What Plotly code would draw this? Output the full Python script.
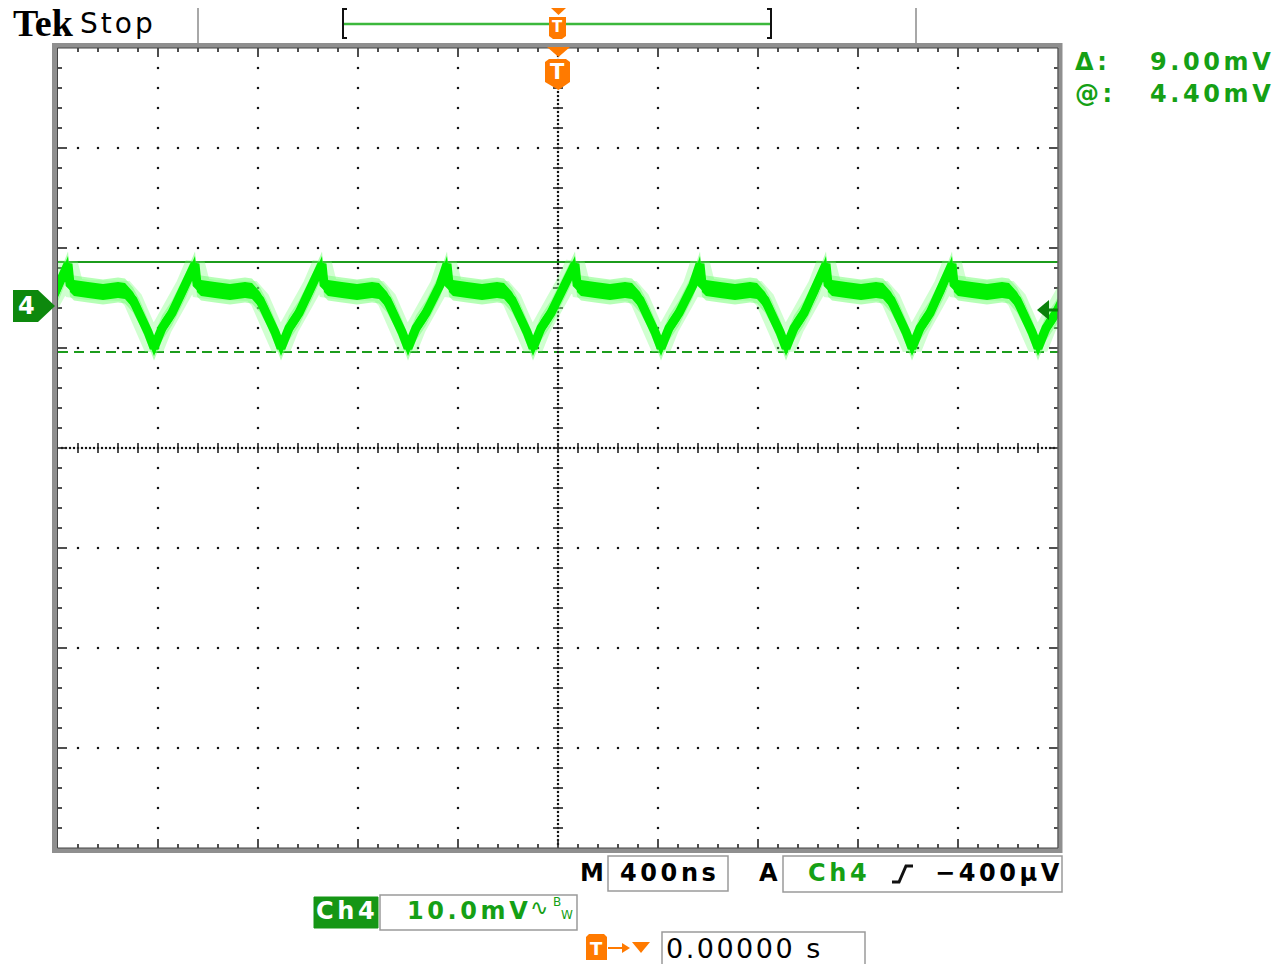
import plotly.graph_objects as go

# ---------------------------------------------------------------------------
# Acquisition settings
# ---------------------------------------------------------------------------
ns_per_div = 400          # M 400ns
mv_per_div = 10.0         # Ch4 10.0mV
n_hdiv, n_vdiv = 10, 8
ch4_position_div = 1.42   # ground marker above screen centre

# Output ripple: peak instants of each switching cycle (ns, trigger = 0)
peak_times_ns = [-2465, -1960, -1452, -944, -444, 68, 568, 1072, 1576]
# Shape of one cycle, measured from its peak
cycle_dt_ns = [0, 8, 24, 80, 140, 200, 228, 260, 288, 320, 344, 376, 416, 472]
cycle_mv = [4.2, 2.2, 1.8, 1.6, 1.4, 1.6, 1.5, 0.6, -0.7, -2.6, -4.2, -2.2, -0.7, 2.1]

# Horizontal bar cursors
cursor_a_mv = 4.40
cursor_delta_mv = 9.00
trigger_level_mv = -0.400

# Readout texts
readout_delta = "9.00mV"
readout_at = "4.40mV"
readout_time = "400ns"
readout_trig = "\u2212400\u00b5V"
readout_scale = "10.0mV"
readout_pos = "0.00000 s"

# ---------------------------------------------------------------------------
# Screen geometry
# ---------------------------------------------------------------------------
W, H = 1275, 964
L, R, T, B = 58, 1058, 48, 848

def px(x):
    return (x - L) / (R - L)

def py(y):
    return (B - y) / (B - T)

x_half = ns_per_div * n_hdiv / 2
y_center = -ch4_position_div * mv_per_div
y_lo = y_center - mv_per_div * n_vdiv / 2
y_hi = y_center + mv_per_div * n_vdiv / 2
ns_px = ns_per_div / 100.0
mv_px = mv_per_div / 100.0

GREEN_TXT = "#15a015"
GREEN_CUR = "#1c9c1c"
ORANGE = "#ff7a00"

# ---------------------------------------------------------------------------
# Waveform
# ---------------------------------------------------------------------------
t_ns, v_mv = [], []
for p in peak_times_ns:
    for dt, mv in zip(cycle_dt_ns, cycle_mv):
        t_ns.append(p + dt)
        v_mv.append(mv)

fig = go.Figure()

def band(half, color):
    up = [v + half for v in v_mv]
    dn = [v - half for v in v_mv]
    fig.add_trace(go.Scatter(x=t_ns, y=up, mode="lines", line=dict(width=0),
                             hoverinfo="skip"))
    fig.add_trace(go.Scatter(x=t_ns, y=dn, mode="lines", line=dict(width=0),
                             fill="tonexty", fillcolor=color, hoverinfo="skip"))

# ---------------------------------------------------------------------------
# Graticule
# ---------------------------------------------------------------------------
dot_x, dot_y = [], []
for k in range(1, n_hdiv):
    if k == n_hdiv // 2:
        continue
    xg = -x_half + ns_per_div * k
    for m in range(1, n_vdiv * 5):
        dot_x.append(xg)
        dot_y.append(y_lo + 20 * mv_px * m)
for j in range(1, n_vdiv):
    if j == n_vdiv // 2:
        continue
    yg = y_lo + mv_per_div * j
    for m in range(1, n_hdiv * 5):
        dot_x.append(-x_half + 20 * ns_px * m)
        dot_y.append(yg)
for m in range(1, n_vdiv * 25):
    dot_x.append(0)
    dot_y.append(y_lo + 4 * mv_px * m)
for m in range(1, n_hdiv * 25):
    dot_x.append(-x_half + 4 * ns_px * m)
    dot_y.append(y_center)

tick_x, tick_y = [], []
def seg(x0, y0, x1, y1):
    tick_x.extend([x0, x1, None])
    tick_y.extend([y0, y1, None])

for m in range(1, n_hdiv * 5):
    xt = -x_half + 20 * ns_px * m
    seg(xt, y_center - 5 * mv_px, xt, y_center + 5 * mv_px)
    ln = 9 if m % 5 == 0 else 4
    seg(xt, y_hi, xt, y_hi - ln * mv_px)
    seg(xt, y_lo, xt, y_lo + ln * mv_px)
for m in range(1, n_vdiv * 5):
    yt = y_lo + 20 * mv_px * m
    seg(-5 * ns_px, yt, 5 * ns_px, yt)
    ln = 9 if m % 5 == 0 else 4
    seg(-x_half, yt, -x_half + ln * ns_px, yt)
    seg(x_half, yt, x_half - ln * ns_px, yt)

fig.add_trace(go.Scatter(x=dot_x, y=dot_y, mode="markers", hoverinfo="skip",
                         marker=dict(symbol="square", size=2.2, color="#111111",
                                     line=dict(width=0))))
fig.add_trace(go.Scatter(x=tick_x, y=tick_y, mode="lines", hoverinfo="skip",
                         line=dict(color="#222222", width=1.6)))

# waveform layers: soft halo, bright band, core line
fig.add_trace(go.Scatter(x=t_ns, y=v_mv, mode="lines", hoverinfo="skip",
                         line=dict(color="rgba(120,255,120,0.35)", width=20)))
band(1.25, "rgba(110,255,110,0.5)")
band(0.8, "#00f000")
fig.add_trace(go.Scatter(x=t_ns, y=v_mv, mode="lines", hoverinfo="skip",
                         line=dict(color="#00f000", width=9)))

# ---------------------------------------------------------------------------
# Shapes
# ---------------------------------------------------------------------------
shapes = []

def pline(x0, y0, x1, y1, color, width, dash="solid"):
    shapes.append(dict(type="line", xref="paper", yref="paper",
                       x0=px(x0), y0=py(y0), x1=px(x1), y1=py(y1),
                       line=dict(color=color, width=width, dash=dash)))

def ppath(points, fill, line_color=None, width=0, closed=True):
    d = "M " + " L ".join(f"{px(x):.5f},{py(y):.5f}" for x, y in points)
    if closed:
        d += " Z"
    shapes.append(dict(type="path", xref="paper", yref="paper", path=d,
                       fillcolor=fill if closed else None,
                       line=dict(color=line_color or fill, width=width)))

def prect(x0, y0, x1, y1, fill, line_color, width):
    shapes.append(dict(type="rect", xref="paper", yref="paper",
                       x0=px(x0), y0=py(y1), x1=px(x1), y1=py(y0),
                       fillcolor=fill, line=dict(color=line_color, width=width)))

# cursors
cursor_b_mv = cursor_a_mv - cursor_delta_mv
shapes.append(dict(type="line", xref="x", yref="y", x0=-x_half, x1=x_half,
                   y0=cursor_a_mv, y1=cursor_a_mv, layer="below",
                   line=dict(color=GREEN_CUR, width=2)))
shapes.append(dict(type="line", xref="x", yref="y", x0=-x_half, x1=x_half,
                   y0=cursor_b_mv, y1=cursor_b_mv, layer="below",
                   line=dict(color=GREEN_CUR, width=2, dash="10px,6px")))

# screen frame
prect(54.5, 45.5, 1060, 850.5, "rgba(0,0,0,0)", "#8f8f8f", 5)
prect(57.5, 48, 1058, 848, "rgba(0,0,0,0)", "#444444", 1)

# header separators
pline(198, 8, 198, 43, "#a8a8a8", 2)
pline(916, 8, 916, 43, "#a8a8a8", 2)
# record view bracket
pline(343, 24, 771, 24, "#3cb83c", 2.5)
ppath([(347, 9), (343, 9), (343, 38), (347, 38)], None, "#111111", 2, closed=False)
ppath([(767, 9), (771, 9), (771, 38), (767, 38)], None, "#111111", 2, closed=False)

# trigger position markers
ppath([(551, 8), (566, 8), (558.5, 15)], ORANGE)
ppath([(549, 17), (566, 17), (566, 36), (562, 39), (553, 39), (549, 36)], ORANGE)
ppath([(547, 47), (570, 47), (558.5, 57)], ORANGE)
ppath([(545, 62), (549, 59), (566, 59), (570, 62), (570, 82), (558.5, 90), (545, 82)], ORANGE)

# channel 4 ground marker
ppath([(13, 290), (38, 290), (55, 306), (38, 322), (13, 322)], "#0d880d")
# trigger level marker
ppath([(1037, 310), (1049, 300), (1049, 320)], "#0a800a")
pline(1048, 310, 1058, 310, "#0a800a", 3)

# readout boxes
prect(608, 856, 728, 891, "rgba(0,0,0,0)", "#9a9a9a", 1.5)
prect(783, 856, 1062, 892, "rgba(0,0,0,0)", "#9a9a9a", 1.5)
prect(314, 897, 378, 928, "#159615", "#159615", 1)
prect(380, 895, 577, 930, "rgba(0,0,0,0)", "#9a9a9a", 1.5)
prect(662, 932, 865, 975, "rgba(0,0,0,0)", "#9a9a9a", 1.5)
# rising-edge slope symbol
ppath([(892, 882), (899, 882), (906, 866), (913, 866)], None, "#111111", 3, closed=False)
# trigger position row icons
ppath([(586, 937), (589, 934), (604, 934), (607, 937), (607, 960), (586, 960)], ORANGE)
pline(608, 948, 627, 948, ORANGE, 2)
ppath([(622, 943), (630, 948), (622, 953)], ORANGE)
ppath([(632, 942), (650, 942), (641, 953)], ORANGE)

# ---------------------------------------------------------------------------
# Text
# ---------------------------------------------------------------------------
ann = []

def label(text, x, y, size, color="#000000", family="DejaVu Sans",
          anchor="left", weight="normal"):
    ann.append(dict(text=text, x=px(x), y=py(y), xref="paper", yref="paper",
                    xanchor=anchor, yanchor="middle", align="left",
                    showarrow=False,
                    font=dict(family=family, size=size, color=color,
                              weight=weight)))

label("Tek", 11, 23, 38, family="Liberation Serif", weight="bold")
label("Stop", 78, 23, 28)

label("\u0394:", 1073, 62, 24, GREEN_TXT, weight="bold")
label(readout_delta, 1148, 62, 24, GREEN_TXT, weight="bold")
label("@:", 1073, 94, 24, GREEN_TXT, weight="bold")
label(readout_at, 1148, 94, 24, GREEN_TXT, weight="bold")

label("4", 26, 306, 24, "#ffffff", anchor="center", weight="bold")
label("T", 557.5, 27, 15, "#ffffff", anchor="center", weight="bold")
label("T", 557.5, 72, 21, "#ffffff", anchor="center", weight="bold")

label("M", 578, 873, 24, weight="bold")
label(readout_time, 618, 873, 24, weight="bold")
label("A", 757, 873, 24, weight="bold")
label("Ch4", 806, 873, 24, GREEN_TXT, weight="bold")
label(readout_trig, 933, 873, 24, weight="bold")

label("Ch4", 314, 911, 24, "#ffffff", weight="bold")
label(readout_scale, 405, 911, 24, GREEN_TXT, weight="bold")
label("\u223f", 539, 907, 22, GREEN_TXT, anchor="center")
label("B", 551, 902, 12, GREEN_TXT)
label("W", 559, 915, 12, GREEN_TXT)

label("T", 596.5, 948, 18, "#ffffff", anchor="center", weight="bold")
label(readout_pos, 664, 948, 27)

fig.update_layout(
    width=W, height=H,
    margin=dict(l=L, r=W - R, t=T, b=H - B, pad=0),
    paper_bgcolor="#ffffff", plot_bgcolor="#ffffff",
    showlegend=False,
    xaxis=dict(range=[-x_half, x_half], visible=False, fixedrange=True),
    yaxis=dict(range=[y_lo, y_hi], visible=False, fixedrange=True),
    shapes=shapes, annotations=ann,
)

# scope-style character pitch for the readout font
LETTER_SPACING_JS = """
(function(){
  var gd = document.getElementById('{plot_id}');
  var gaps = {'24px': '3.6px', '27px': '2.5px', '28px': '3px'};
  function apply(){
    gd.querySelectorAll('text.annotation-text').forEach(function(t){
      var fam = t.style.fontFamily || '';
      if (fam.indexOf('DejaVu Sans') < 0 || fam.indexOf('Mono') >= 0) return;
      var g = gaps[t.style.fontSize];
      if (g && t.textContent.length > 1) t.style.letterSpacing = g;
    });
  }
  apply();
  gd.on('plotly_afterplot', apply);
})();
"""

fig.write_html("out.html", config={"displayModeBar": False},
               post_script=LETTER_SPACING_JS)
